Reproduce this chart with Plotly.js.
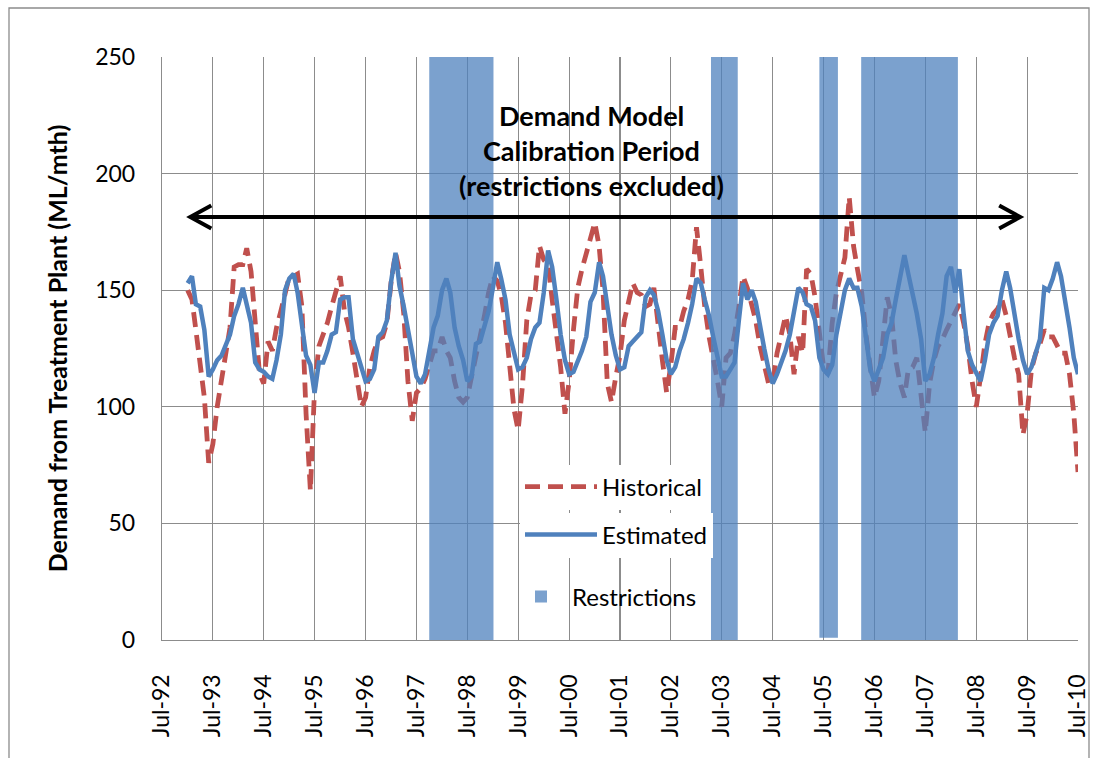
<!DOCTYPE html>
<html><head><meta charset="utf-8">
<script src="https://cdn.plot.ly/plotly-3.0.1.min.js"></script>
<style>html,body{margin:0;padding:0;background:#fff}#chart{width:1094px;height:758px}</style>
</head><body><div id="chart"></div><script>
// ---- data ----
const startYear = 1993, startMonth = 0; // Jan-93, monthly series
const historical = [
150,146,133,117,104,76,84,100,111,121,134,160,
161,161,168,158,136,114,110,128,124,134,141,148,
156,156,157,143,97,64,108,126,131,136,143,150,
156,141,134,123,111,100,104,117,124,129,130,136,
154,166,158,140,111,94,106,108,112,118,124,124,
130,124,121,111,104,102,104,113,121,131,139,149,
156,154,148,136,119,99,90,109,137,148,150,169,
163,161,146,131,117,97,111,133,151,159,166,173,
179,169,150,110,102,113,122,137,146,153,149,148,
143,144,151,134,120,106,118,134,134,141,146,154,
177,160,143,130,121,111,100,121,123,131,143,156,
151,143,137,126,117,110,110,123,131,139,131,114,
130,123,159,157,147,131,117,114,136,149,157,164,
190,169,159,149,131,116,104,111,130,147,139,120,
110,104,116,117,121,106,89,110,120,126,129,133,
137,141,144,136,126,111,100,113,127,136,140,142,
146,139,130,121,114,88,97,116,123,127,133,130,
130,126,123,123,114,97,72];
const estimated = [
153,156,144,143,133,113,116,120,122,126,131,139,
144,151,144,136,119,116,115,113,112,120,131,150,
155,157,149,136,122,118,106,119,119,124,131,132,
146,147,147,129,123,116,111,112,116,130,132,137,
154,166,152,143,134,123,113,110,114,123,134,139,
150,155,149,134,126,120,111,113,127,128,134,141,
151,162,155,146,131,123,116,117,121,129,134,136,
149,167,160,146,131,120,114,115,119,124,130,145,
149,162,156,143,131,122,116,117,126,128,130,132,
147,150,148,141,131,120,114,117,124,129,136,144,
155,153,146,139,130,121,113,113,116,119,137,153,
146,150,145,134,125,116,110,114,119,124,131,141,
151,149,144,143,137,121,116,114,118,131,141,150,
155,151,151,143,130,116,111,116,121,131,136,146,
156,165,157,149,140,129,111,114,121,131,140,156,
160,149,159,140,124,118,114,111,120,131,136,139,
150,158,151,139,129,120,114,117,123,129,151,150,
155,162,156,146,134,121,114];
const restrictStart = ['1997-10-01','2003-04-15','2005-06-01','2006-03-28'];
const restrictEnd   = ['1999-01-05','2003-10-24','2005-10-12','2008-02-20'];
const restrictTop   = [250, 250, 251, 250];
const restrictBase  = [-1.7, -2.4, 1, 0];
const tickDates = ['1992-07-01','1993-07-01','1994-07-01','1995-07-01','1996-07-01','1997-07-01','1998-07-01','1999-07-01','2000-07-01','2001-07-01','2002-07-01','2003-07-01','2004-07-01','2005-07-01','2006-07-01','2007-07-01','2008-07-01','2009-07-01','2010-07-01'];
const tickLabels = ['Jul-92','Jul-93','Jul-94','Jul-95','Jul-96','Jul-97','Jul-98','Jul-99','Jul-00','Jul-01','Jul-02','Jul-03','Jul-04','Jul-05','Jul-06','Jul-07','Jul-08','Jul-09','Jul-10'];
const calibStart = '1993-01-20', calibEnd = '2009-05-12', calibLevel = 181.4;
const titleLines = ['Demand Model','Calibration Period','(restrictions excluded)'];
const titleLevels = [225, 210, 195];

// ---- build ----
function pad(n){return (n<10?'0':'')+n;}
const months = historical.map((_,i)=>{const d=new Date(Date.UTC(startYear,startMonth+i,1));return d.getUTCFullYear()+'-'+pad(d.getUTCMonth()+1)+'-01';});
const ms = s => new Date(s+'T00:00:00Z').getTime();

const FONT = 'Lato, "Open Sans", sans-serif';
const grid = '#8c8c8c';

const traces = [
 {type:'scatter', mode:'lines', name:'Historical', x:months, y:historical, xaxis:'x', yaxis:'y',
  line:{color:'#C0504D', width:4.8, dash:'15px,8px'}, legend:'legend'},
 {type:'scatter', mode:'lines', name:'Estimated', x:months, y:estimated, xaxis:'x', yaxis:'y2',
  line:{color:'#4F81BD', width:4.5}, legend:'legend2'},
 {type:'bar', name:'Restrictions', x:restrictStart, y:restrictTop.map((t,i)=>t-restrictBase[i]), base:restrictBase,
  width:restrictStart.map((s,i)=>ms(restrictEnd[i])-ms(s)), offset:0, xaxis:'x', yaxis:'y2',
  marker:{color:'rgba(79,129,189,0.75)', line:{width:0}}, cliponaxis:false, legend:'legend3'}
];

const L=162, R=16, T=57, B=118, W=1094-L-R, H=758-T-B;
const px = x => (x-L)/W, py = y => (640-y)/H;

const legendBase = {xanchor:'left', yanchor:'middle', bgcolor:'#ffffff', borderwidth:0,
  font:{family:FONT, size:24, color:'#000'}, itemwidth:72};

const layout = {
 width:1094, height:758, margin:{l:L, r:R, t:T, b:B}, paper_bgcolor:'#fff', plot_bgcolor:'#fff',
 font:{family:FONT, color:'#000'},
 barmode:'overlay',
 xaxis:{type:'date', range:['1992-07-01','2010-07-01'], tickvals:tickDates, ticktext:tickLabels, tickangle:-90,
   showgrid:true, gridcolor:grid, gridwidth:1.2, showline:true, linecolor:grid, linewidth:1.2, zeroline:false,
   ticks:'', ticklabelstandoff:24, tickfont:{family:FONT, size:23, color:'#000'}},
 yaxis:{range:[0,250], dtick:50, showgrid:true, gridcolor:grid, gridwidth:1.2, showline:true, linecolor:grid, linewidth:1.2,
   zeroline:false, ticks:'', ticklabelstandoff:21, tickfont:{family:FONT, size:23, color:'#000'},
   title:{text:'<b>Demand from Treatment Plant (ML/mth)</b>', font:{family:FONT, size:25, color:'#000'}, standoff:20}},
 yaxis2:{range:[0,250], overlaying:'y', side:'left', showgrid:false, zeroline:false, showticklabels:false, showline:false, ticks:''},
 showlegend:true,
 legend: Object.assign({}, legendBase, {x:px(520), y:py(487)}),
 legend2: Object.assign({}, legendBase, {x:px(520), y:py(535)}),
 legend3: Object.assign({}, legendBase, {x:px(510), y:py(597), itemwidth:52, bgcolor:'rgba(0,0,0,0)'}),
 annotations: titleLines.map((t,i)=>({text:'<b>'+t+'</b>', xref:'paper', x:px(591), yref:'y', y:titleLevels[i],
   xanchor:'center', yanchor:'middle', showarrow:false, font:{family:FONT, size:27, color:'#000'}})),
 shapes:[
  {type:'line', xref:'x', yref:'y', x0:calibStart, x1:calibEnd, y0:calibLevel, y1:calibLevel, line:{color:'#000', width:4}},
  {type:'path', xref:'x', yref:'y', xsizemode:'pixel', ysizemode:'pixel', xanchor:calibStart, yanchor:calibLevel,
   path:'M21,-11.5 L0,0 L21,11.5', line:{color:'#000', width:4}},
  {type:'path', xref:'x', yref:'y', xsizemode:'pixel', ysizemode:'pixel', xanchor:calibEnd, yanchor:calibLevel,
   path:'M-21,-11.5 L0,0 L-21,11.5', line:{color:'#000', width:4}},
  {type:'rect', xref:'paper', yref:'paper', x0:px(9), x1:px(1089), y0:py(790), y1:py(8), line:{color:'#8c8c8c', width:1.3}, fillcolor:'rgba(0,0,0,0)'}
 ]
};

Plotly.newPlot('chart', traces, layout, {displayModeBar:false, staticPlot:true});
</script></body></html>
